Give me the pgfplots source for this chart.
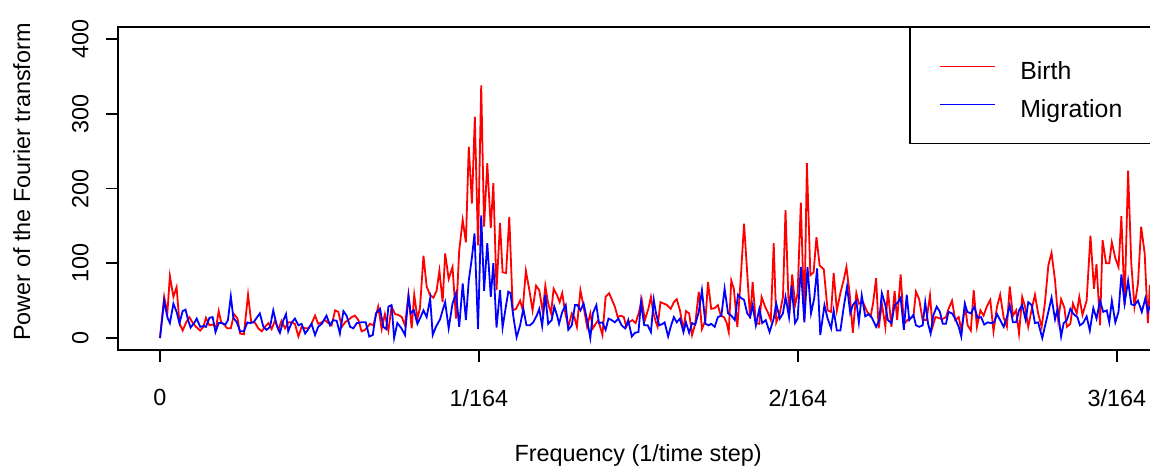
\documentclass[border=0pt]{standalone}
\usepackage{fontspec}
\setmainfont{Liberation Sans}
\usepackage{pgfplots}
\pgfplotsset{compat=1.18}
\newcommand{\legfont}{\fontsize{12.4}{14}\selectfont\rule{0pt}{14.6pt}}
\begin{document}
\fontsize{11.7}{14}\selectfont
\begin{tikzpicture}
\begin{axis}[
  scale only axis, width=517pt, height=161.5pt,
  xmin=-0.1317, xmax=3.110, ymin=-16, ymax=416,
  axis line style={line width=0.9pt},
  tick style={line width=0.9pt, black},
  tick align=outside, major tick length=6pt,
  xtick={0,1,2,3}, xticklabels={0,1/164,2/164,3/164},
  ytick={0,100,200,300,400},
  xtick pos=bottom, ytick pos=left,
  /pgf/number format/assume math mode=true,
  yticklabel style={rotate=90, anchor=south, inner sep=0pt},
  xticklabel style={anchor=north, inner sep=0pt},
  yticklabel shift=8.5pt,
  xticklabel shift=13.5pt,
  xlabel={Frequency (1/time step)},
  ylabel={Power of the Fourier transform},
  xlabel style={at={(axis description cs:0.503,-0.325)}, anchor=center},
  ylabel style={at={(axis description cs:-0.093,0.52)}, anchor=center},
  legend cell align=left,
  legend image code/.code={\draw[#1, line width=0.6pt] (0pt,0pt) -- (27.5pt,0pt);},
  legend style={at={(rel axis cs:1,1)}, anchor=north east, draw=black, line width=0.7pt,
    inner xsep=14.5pt, inner ysep=11.4pt, column sep=12.5pt, row sep=2.4pt,
    nodes={inner sep=0pt}},
]
\addplot[red, line width=0.9pt] coordinates {
(0,0)(0.013,55)(0.023,33)(0.031,83)(0.042,55)(0.052,68)(0.061,20)(0.071,10)(0.082,21)(0.092,28)(0.103,20)(0.113,15)(0.126,10)(0.136,15)(0.144,27)(0.155,17)(0.165,18)(0.176,15)(0.184,36)(0.192,21)(0.201,18)(0.211,13)(0.222,13)(0.232,32)(0.243,26)(0.251,6)(0.263,5)(0.276,58)(0.286,21)(0.297,21)
(0.308,13)(0.319,9)(0.329,15)(0.340,20)(0.350,12)(0.361,24)(0.371,11)(0.381,23)(0.392,13)(0.402,21)(0.413,21)(0.423,19)(0.434,2)(0.444,15)(0.455,13)(0.465,13)(0.475,19)(0.486,30)(0.496,19)(0.507,21)(0.517,24)(0.528,20)(0.538,17)(0.549,37)(0.559,35)(0.570,15)(0.580,21)(0.590,24)(0.601,28)(0.611,30)(0.622,24)(0.632,9)(0.643,11)
(0.658,19)(0.669,17)(0.684,42)(0.695,12)(0.705,32)(0.716,10)(0.726,42)(0.737,32)(0.747,31)(0.758,28)(0.768,17)(0.779,58)(0.789,13)(0.797,58)(0.807,26)(0.815,40)(0.826,110)(0.836,69)(0.846,58)(0.857,54)(0.867,63)(0.876,90)
(0.886,48)(0.894,113)(0.905,79)(0.917,95)(0.928,26)(0.938,117)(0.949,158)(0.959,128)(0.968,256)(0.978,180)(0.987,296)(0.997,124)(1.007,338)(1.016,149)(1.026,234)(1.037,147)(1.045,207)(1.055,64)(1.066,154)(1.074,88)(1.085,87)(1.095,162)(1.106,37)(1.116,39)(1.129,50)(1.137,38)(1.147,90)(1.158,64)(1.168,37)(1.179,70)(1.189,64)(1.200,35)(1.208,70)
(1.217,46)(1.226,33)(1.234,66)(1.245,57)(1.253,48)(1.261,60)(1.270,35)(1.280,15)(1.291,33)(1.299,28)(1.307,15)(1.318,64)(1.328,42)(1.339,15)(1.349,33)(1.357,13)(1.366,19)(1.374,24)(1.387,4)(1.397,55)(1.408,60)(1.416,52)(1.426,42)(1.435,28)(1.445,30)(1.454,28)(1.462,15)(1.470,21)(1.481,24)(1.491,20)(1.502,35)(1.510,52)(1.520,24)(1.531,39)(1.539,55)
(1.547,33)(1.555,21)(1.560,15)(1.569,48)(1.580,46)(1.590,44)(1.601,39)(1.611,48)(1.620,52)(1.630,37)(1.641,11)(1.649,36)(1.659,33)(1.668,4)(1.678,19)(1.689,62)(1.699,12)(1.710,24)(1.718,75)(1.728,39)(1.739,40)(1.749,44)(1.758,30)(1.768,28)(1.776,21)(1.783,8)(1.791,77)(1.799,66)(1.810,15)(1.820,75)(1.831,153)(1.839,100)(1.850,26)(1.858,75)(1.868,20)(1.879,19)
(1.886,55)(1.897,42)(1.907,33)(1.915,24)(1.924,127)(1.932,21)(1.943,33)(1.953,55)(1.961,171)(1.972,28)(1.982,85)(1.991,44)(1.999,60)(2.009,181)(2.020,24)(2.028,234)(2.039,84)(2.049,88)(2.058,135)(2.068,97)(2.081,92)(2.093,37)(2.104,35)(2.112,87)(2.122,37)(2.133,60)(2.143,77)(2.152,95)(2.162,60)(2.172,7)(2.183,60)(2.191,46)(2.204,48)
(2.217,35)(2.228,29)(2.236,48)(2.245,80)(2.253,13)(2.263,46)(2.274,15)(2.282,64)(2.293,15)(2.303,63)(2.311,24)(2.322,85)(2.332,19)(2.343,24)(2.351,26)(2.362,29)(2.370,62)(2.380,52)(2.391,24)(2.403,24)(2.414,57)(2.422,15)(2.431,28)(2.441,27)(2.451,25)(2.464,28)(2.472,39)(2.483,50)(2.493,24)(2.504,28)(2.512,11)
(2.524,42)(2.532,17)(2.542,10)(2.551,64)(2.561,15)(2.572,37)(2.582,30)(2.592,42)(2.603,51)(2.613,9)(2.624,42)(2.634,58)(2.645,27)(2.655,15)(2.664,69)(2.674,30)(2.684,37)(2.693,6)(2.703,55)(2.712,42)(2.722,15)(2.733,39)(2.743,58)(2.753,33)(2.764,15)(2.774,46)(2.785,97)(2.795,114)(2.806,77)(2.816,24)(2.825,52)(2.835,41)(2.843,15)(2.854,19)(2.862,46)
(2.874,33)(2.882,55)(2.892,31)(2.905,50)(2.917,137)(2.928,66)(2.936,99)(2.947,17)(2.955,131)(2.966,100)(2.976,100)(2.984,128)(2.995,107)(3.005,95)(3.014,163)(3.024,44)(3.035,224)(3.045,100)(3.055,42)(3.066,73)(3.076,149)(3.087,113)(3.097,20)(3.103,68)(3.115,60)
};
\addlegendentry{\legfont Birth}
\addplot[blue, line width=0.9pt] coordinates {
(0,0)(0.013,50)(0.023,28)(0.031,20)(0.042,46)(0.052,35)(0.061,20)(0.071,36)(0.080,38)(0.088,24)(0.096,14)(0.107,20)(0.115,26)(0.126,15)(0.136,16)(0.144,15)(0.155,27)(0.165,28)(0.174,8)(0.184,20)(0.194,20)(0.205,18)(0.213,24)(0.222,56)(0.230,27)(0.241,21)(0.251,9)(0.263,9)(0.274,21)(0.282,20)(0.293,21)
(0.313,33)(0.324,15)(0.334,11)(0.345,15)(0.355,37)(0.366,17)(0.376,7)(0.387,24)(0.395,32)(0.402,9)(0.413,21)(0.423,26)(0.434,17)(0.444,19)(0.455,6)(0.465,12)(0.475,19)(0.486,4)(0.496,15)(0.507,19)(0.522,30)(0.533,17)(0.543,24)(0.554,23)(0.564,6)(0.575,36)(0.585,30)(0.596,15)(0.606,13)(0.617,20)(0.632,21)
(0.645,21)(0.656,2)(0.667,4)(0.677,33)(0.690,39)(0.700,15)(0.709,12)(0.716,42)(0.726,44)(0.734,0)(0.744,20)(0.757,13)(0.768,4)(0.779,56)(0.786,33)(0.796,37)(0.807,19)(0.817,28)(0.826,37)(0.836,28)(0.847,53)(0.855,4)(0.865,15)
(0.878,25)(0.886,37)(0.894,48)(0.905,13)(0.917,46)(0.928,60)(0.938,15)(0.949,73)(0.959,24)(0.968,77)(0.978,108)(0.986,140)(0.997,12)(1.007,164)(1.016,63)(1.026,127)(1.037,55)(1.045,100)(1.055,14)(1.066,64)(1.074,14)(1.085,44)(1.092,62)(1.099,60)(1.108,28)(1.118,1)(1.129,17)(1.139,39)(1.149,17)(1.160,17)(1.170,21)(1.181,30)(1.189,39)(1.198,16)(1.208,58)
(1.217,19)(1.228,24)(1.236,42)(1.245,30)(1.251,19)(1.261,35)(1.272,44)(1.280,11)(1.291,17)(1.301,44)(1.309,44)(1.318,37)(1.328,46)(1.339,24)(1.349,0)(1.357,33)(1.368,44)(1.376,20)(1.387,21)(1.397,11)(1.406,26)(1.416,24)(1.426,21)(1.437,26)(1.447,17)(1.458,13)(1.468,24)(1.479,2)(1.489,7)(1.500,8)(1.508,48)(1.518,17)(1.529,17)(1.539,8)(1.548,51)
(1.555,33)(1.565,17)(1.576,19)(1.582,21)(1.593,2)(1.601,15)(1.611,28)(1.620,21)(1.630,26)(1.641,8)(1.649,21)(1.659,7)(1.668,20)(1.678,18)(1.689,35)(1.699,64)(1.710,19)(1.720,17)(1.728,19)(1.739,15)(1.749,28)(1.760,30)(1.770,66)(1.781,33)(1.791,30)(1.802,24)(1.812,58)(1.820,54)(1.831,51)(1.841,33)(1.850,28)(1.858,44)(1.868,17)(1.879,39)
(1.888,20)(1.899,24)(1.911,8)(1.924,26)(1.932,46)(1.943,26)(1.953,33)(1.961,55)(1.972,28)(1.980,70)(1.991,20)(1.999,26)(2.009,95)(2.020,21)(2.030,95)(2.041,33)(2.051,53)(2.060,93)(2.070,4)(2.083,44)(2.093,26)(2.104,13)(2.112,37)(2.122,10)(2.133,10)(2.143,40)(2.154,69)(2.164,33)(2.172,44)(2.183,50)(2.191,21)(2.200,57)
(2.211,29)(2.222,32)(2.232,27)(2.245,15)(2.255,24)(2.263,60)(2.274,44)(2.282,24)(2.293,20)(2.303,44)(2.314,48)(2.322,54)(2.332,11)(2.341,58)(2.349,24)(2.362,31)(2.370,17)(2.380,15)(2.391,17)(2.399,48)(2.408,19)(2.416,6)(2.424,30)(2.435,42)(2.445,35)(2.454,19)(2.464,19)(2.472,35)(2.483,33)(2.493,26)(2.504,15)(2.512,2)(2.523,46)(2.531,35)
(2.542,33)(2.553,42)(2.563,27)(2.574,28)(2.584,18)(2.595,21)(2.605,20)(2.615,21)(2.624,32)(2.634,24)(2.645,15)(2.655,28)(2.664,44)(2.674,21)(2.684,21)(2.693,37)(2.703,44)(2.714,24)(2.722,48)(2.733,44)(2.743,20)(2.753,21)(2.766,0)(2.774,15)(2.785,35)(2.795,54)(2.806,25)(2.814,39)(2.825,2)(2.833,20)(2.843,24)(2.854,39)(2.864,32)
(2.876,28)(2.884,17)(2.894,20)(2.905,29)(2.915,10)(2.926,40)(2.936,26)(2.947,50)(2.957,35)(2.968,37)(2.976,21)(2.984,50)(2.995,21)(3.005,35)(3.014,85)(3.024,46)(3.035,77)(3.045,45)(3.055,44)(3.066,50)(3.078,35)(3.089,53)(3.097,35)(3.103,42)(3.115,40)
};
\addlegendentry{\legfont\smash{Migration}}
\coordinate (bl) at (rel axis cs:0,0);
\coordinate (tr) at (rel axis cs:1,1);
\end{axis}
\pgfresetboundingbox
\path[use as bounding box] ([xshift=-59pt,yshift=-58.5pt]bl) rectangle ([xshift=-1pt,yshift=13.5pt]tr);
\end{tikzpicture}
\end{document}
